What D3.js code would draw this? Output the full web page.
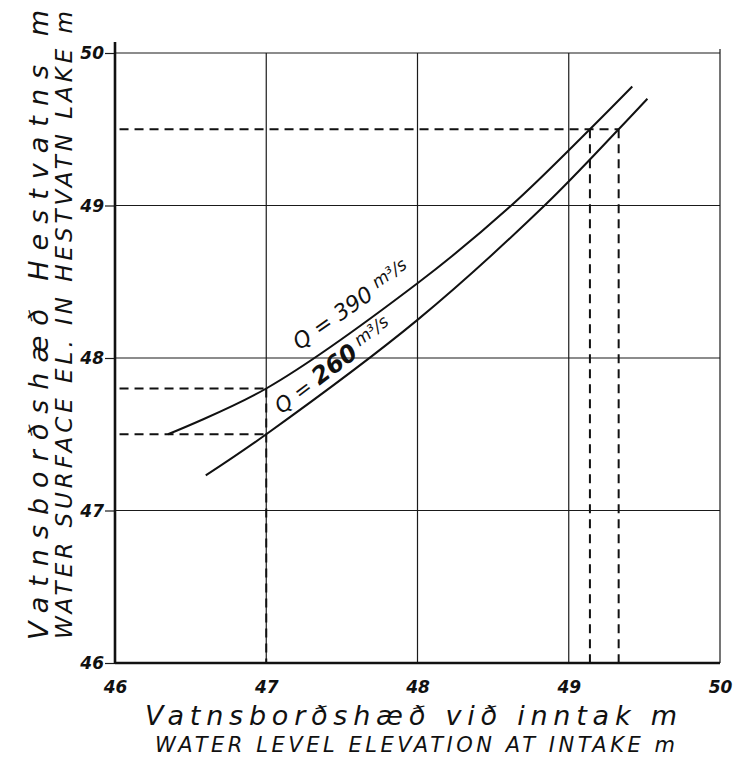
<!DOCTYPE html>
<html>
<head>
<meta charset="utf-8">
<script src="https://cdn.jsdelivr.net/npm/d3@7"></script>
<style>
  body { margin: 0; background: #fff; }
  text { font-family: "DejaVu Sans", sans-serif; font-style: italic; fill: #111; }
</style>
</head>
<body>
<svg width="739" height="763"></svg>
<script>
// tick values on both axes (metres)
var xTicks = [46, 47, 48, 49, 50];
var yTicks = [46, 47, 48, 49, 50];

// rating curves: [intake level, lake level]
var q390 = [[46.35, 47.5], [47, 47.8], [48, 48.49], [48.62, 49.0], [49.14, 49.5], [49.42, 49.78]];
var q260 = [[46.6, 47.23], [47, 47.5], [48, 48.25], [48.84, 49.0], [49.33, 49.5], [49.52, 49.7]];

// dashed read-off lines
var refH = [{y: 47.8, x0: 46.03, x1: 47}, {y: 47.5, x0: 46.03, x1: 47}, {y: 49.5, x0: 46.03, x1: 49.33}];
var refV = [{x: 47, y0: 46, y1: 47.8}, {x: 49.14, y0: 46, y1: 49.5}, {x: 49.33, y0: 46, y1: 49.5}];

window.onload = function(){ drawChart() }
function drawChart() {
    var svg = d3.select("svg");
    var left = 115, right = 720, top = 53, bottom = 663;

    var x = d3.scaleLinear().domain([46, 50]).range([left, right]);
    var y = d3.scaleLinear().domain([46, 50]).range([bottom, top]);

    // grid
    var grid = svg.append("g").attr("stroke", "#1a1a1a").attr("stroke-width", 1.2);
    grid.selectAll(".vg").data(xTicks.slice(1)).enter().append("line")
        .attr("x1", function(d) { return x(d); }).attr("x2", function(d) { return x(d); })
        .attr("y1", function(d) { return d == 50 ? top - 4 : top; }).attr("y2", bottom);
    grid.selectAll(".hg").data(yTicks.slice(1)).enter().append("line")
        .attr("x1", left).attr("x2", right)
        .attr("y1", function(d) { return y(d); }).attr("y2", function(d) { return y(d); });

    // axes
    var yAxis = d3.axisLeft(y).tickValues(yTicks).tickSize(10).tickFormat(d3.format("d"));
    var gy = svg.append("g").attr("transform", "translate(" + left + ",0)").call(yAxis);
    gy.select(".domain").remove();
    gy.selectAll(".tick line").attr("stroke", "#1a1a1a").attr("stroke-width", 1.2);
    gy.selectAll(".tick text").attr("x", -11).attr("dy", "0.35em")
        .style("font-size", "17px").style("font-weight", "bold").style("font-family", "DejaVu Sans");

    var xAxis = d3.axisBottom(x).tickValues(xTicks).tickSize(0).tickFormat(d3.format("d"));
    var gx = svg.append("g").attr("transform", "translate(0," + bottom + ")").call(xAxis);
    gx.select(".domain").remove();
    gx.selectAll(".tick text").attr("y", 30).attr("dy", 0)
        .style("font-size", "17px").style("font-weight", "bold").style("font-family", "DejaVu Sans");

    svg.append("line").attr("x1", left).attr("x2", left).attr("y1", top - 11).attr("y2", bottom + 1)
        .attr("stroke", "#111").attr("stroke-width", 2.6);
    svg.append("line").attr("x1", left).attr("x2", right).attr("y1", bottom).attr("y2", bottom)
        .attr("stroke", "#111").attr("stroke-width", 2.4);

    // dashed lines
    var dash = svg.append("g").attr("stroke", "#111").attr("stroke-width", 2).attr("stroke-dasharray", "9,6");
    dash.selectAll(".dh").data(refH).enter().append("line")
        .attr("x1", function(d) { return x(d.x0); }).attr("x2", function(d) { return x(d.x1); })
        .attr("y1", function(d) { return y(d.y); }).attr("y2", function(d) { return y(d.y); });
    dash.selectAll(".dv").data(refV).enter().append("line")
        .attr("x1", function(d) { return x(d.x); }).attr("x2", function(d) { return x(d.x); })
        .attr("y1", function(d) { return y(d.y1); }).attr("y2", function(d) { return y(d.y0); });

    // curves
    var line = d3.line()
        .x(function(d) { return x(d[0]); })
        .y(function(d) { return y(d[1]); })
        .curve(d3.curveCatmullRom.alpha(0.5));
    svg.selectAll(".curve").data([q390, q260]).enter().append("path")
        .attr("d", line).attr("fill", "none").attr("stroke", "#111").attr("stroke-width", 2);

    // curve labels
    var l1 = svg.append("text")
        .attr("transform", "translate(" + x(47.22) + "," + y(48.05) + ") rotate(-35)")
        .style("font-size", "22px");
    l1.append("tspan").text("Q = 390 ");
    l1.append("tspan").attr("dy", -6).style("font-size", "17px").text("m³/s");

    var l2 = svg.append("text")
        .attr("transform", "translate(" + x(47.1) + "," + y(47.63) + ") rotate(-37)")
        .style("font-size", "21px");
    l2.append("tspan").text("Q = ");
    l2.append("tspan").style("font-weight", "bold").style("font-size", "24px").text("260");
    l2.append("tspan").attr("dy", -7).style("font-size", "17px").text(" m³/s");

    // axis titles
    svg.append("text")
        .attr("transform", "translate(48,325) rotate(-90)")
        .attr("text-anchor", "middle").attr("textLength", 630).attr("lengthAdjust", "spacing")
        .style("font-size", "27px").text("Vatnsborðshæð  Hestvatns m");
    svg.append("text")
        .attr("transform", "translate(72,325) rotate(-90)")
        .attr("text-anchor", "middle").attr("textLength", 628).attr("lengthAdjust", "spacing")
        .style("font-size", "23px").text("WATER SURFACE EL. IN HESTVATN LAKE m");

    svg.append("text")
        .attr("x", 411).attr("y", 725)
        .attr("text-anchor", "middle").attr("textLength", 532).attr("lengthAdjust", "spacing")
        .style("font-size", "27px").text("Vatnsborðshæð  við inntak  m");
    svg.append("text")
        .attr("x", 415).attr("y", 752)
        .attr("text-anchor", "middle").attr("textLength", 520).attr("lengthAdjust", "spacing")
        .style("font-size", "21px").text("WATER LEVEL ELEVATION AT INTAKE m");
}
</script>
</body>
</html>
